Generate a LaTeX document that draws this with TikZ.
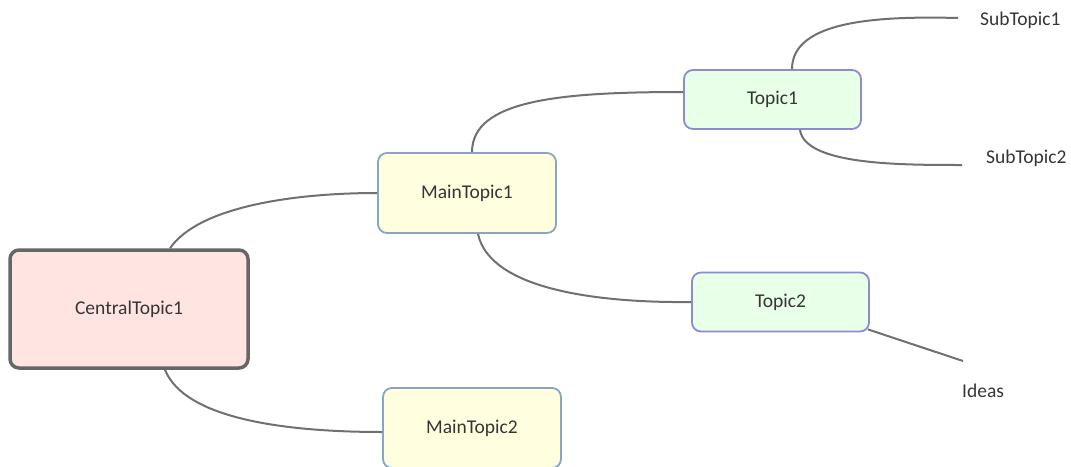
\documentclass[tikz,border=0pt]{standalone}
\usepackage{fontspec}
\setmainfont{Carlito}
\definecolor{linegray}{HTML}{707070}
\definecolor{txt}{HTML}{353535}
\definecolor{centralfill}{HTML}{FFE4E1}
\definecolor{centralborder}{HTML}{666666}
\definecolor{mainfill}{HTML}{FFFFE0}
\definecolor{mainborder}{HTML}{8AA4C4}
\definecolor{topicfill}{HTML}{E8FFE8}
\definecolor{topicborder}{HTML}{8C8CD0}
\tikzset{
  lbl/.style={text=txt, font=\fontsize{19.5}{22}\selectfont, inner sep=0pt},
  centralbox/.style={lbl, draw=centralborder, fill=centralfill, line width=3.5pt, rounded corners=9pt, minimum width=238pt, minimum height=118pt},
  mainbox/.style={lbl, draw=mainborder, fill=mainfill, line width=1.8pt, rounded corners=9pt, minimum width=178pt, minimum height=80pt},
  topicbox/.style={lbl, draw=topicborder, fill=topicfill, line width=1.8pt, rounded corners=9pt, minimum width=177pt, minimum height=59pt},
  conn/.style={draw=linegray, line width=2pt},
}
\begin{document}
\begin{tikzpicture}[x=1pt,y=-1pt]
\useasboundingbox (0,0) rectangle (1071,466);
\begin{scope}
\clip (0,0) rectangle (1071,466);
\coordinate (c1) at (170,248);
\coordinate (c2) at (165,368);
\coordinate (m2a) at (383,432);
\coordinate (m1t) at (472,153);
\coordinate (m1b) at (478,233);
\coordinate (t1a) at (684,92);
\coordinate (t1t) at (792,70);
\coordinate (t1b) at (800,129);
\coordinate (s1e) at (958,18);
\coordinate (s2e) at (962,165);
\coordinate (ide) at (963,361);

\node[centralbox] (central) at (129,309) {CentralTopic1};
\node[mainbox] (main1) at (467,193) {MainTopic1};
\node[mainbox] (main2) at (472,428) {MainTopic2};
\node[topicbox] (topic1) at (772.5,99.5) {Topic1};
\node[topicbox] (topic2) at (780.5,302) {Topic2};
\node[lbl, anchor=west] (sub1) at (980,20) {SubTopic1};
\node[lbl, anchor=west] (sub2) at (986,158) {SubTopic2};
\node[lbl, anchor=west] (ideas) at (962,391) {Ideas};

\draw[conn] (central.north -| c1) .. controls (200,205) and (300,193) .. (main1.west);
\draw[conn] (central.south -| c2) .. controls (185,420) and (290,432) .. (main2.west |- m2a);
\draw[conn] (main1.north -| m1t) .. controls (472,100) and (560,92) .. (topic1.west |- t1a);
\draw[conn] (main1.south -| m1b) .. controls (490,290) and (600,303) .. (topic2.west);
\draw[conn] (topic1.north -| t1t) .. controls (792,20) and (880,16) .. (s1e);
\draw[conn] (topic1.south -| t1b) .. controls (805,165) and (900,165) .. (s2e);
\draw[conn] ([shift={(-2,-3)}]topic2.south east) -- (ide);
\end{scope}
\end{tikzpicture}
\end{document}
